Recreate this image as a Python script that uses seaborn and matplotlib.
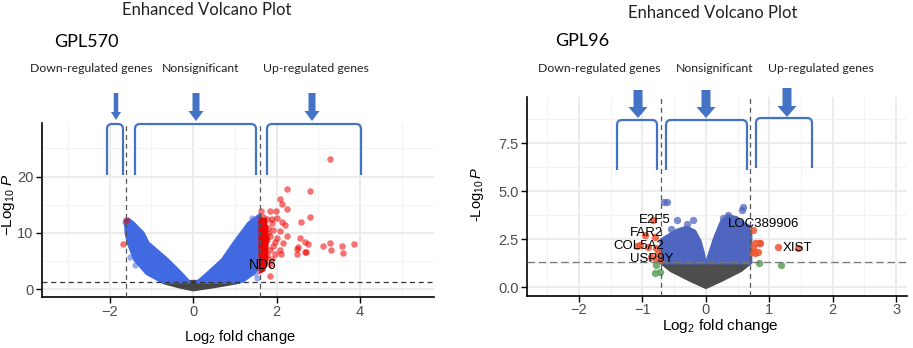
import numpy as np
import pandas as pd
import seaborn as sns
import matplotlib
matplotlib.use("Agg")
import matplotlib.pyplot as plt
from matplotlib.path import Path
from matplotlib.patches import PathPatch, FancyArrow
from matplotlib.ticker import FormatStrFormatter

sns.set_theme(style="white")
plt.rcParams["font.family"] = ["Liberation Sans", "DejaVu Sans"]
plt.rcParams["mathtext.fontset"] = "custom"
plt.rcParams["mathtext.rm"] = "Liberation Sans"
plt.rcParams["mathtext.it"] = "Liberation Sans:italic"

# ---------------- GPL570 data ----------------
gpl570_up_x = [3.27, 2.24, 2.79, 2.07, 2.12, 2.24, 1.99, 1.83, 1.63, 2.79, 2.58, 2.00, 2.12,
               1.89, 2.20, 1.72, 1.92, 2.08, 1.79, 2.24, 1.68, 2.00, 2.55, 2.68, 2.76, 3.28,
               3.12, 3.56, 3.86, 3.31, 3.58, 2.48, 2.68, 1.84, 2.08, 1.92, 2.16, 1.77, 1.89,
               2.50, 2.10, 1.83, 2.51, 2.71,
               1.63, 1.65, 1.62, 1.66, 1.63, 1.68, 1.62, 1.65, 1.70, 1.63, 1.66, 1.62, 1.70,
               1.64, 1.72, 1.75, 1.70, 1.74, 1.62, 1.78, 1.80, 1.76, 1.68, 1.85, 1.95, 1.90,
               1.95, 1.85]
gpl570_up_y = [23.1, 17.8, 17.4, 16.0, 15.1, 14.2, 13.9, 13.85, 13.8, 12.8, 12.0, 12.6, 12.0,
               11.7, 11.4, 11.1, 10.5, 10.4, 9.95, 9.5, 9.35, 9.05, 9.05, 8.3, 8.05, 8.2,
               7.6, 7.6, 8.0, 7.0, 6.4, 7.1, 6.7, 7.0, 7.0, 7.6, 8.2, 8.75, 12.4,
               6.3, 6.3, 2.4, 7.5, 6.6,
               12.0, 11.0, 10.5, 9.8, 9.0, 8.3, 7.8, 7.2, 6.8, 6.2, 5.6, 5.0, 4.6,
               4.2, 7.6, 9.0, 10.3, 5.5, 3.8, 6.0, 10.8, 12.5, 12.9, 9.4, 8.4, 5.4,
               6.2, 4.4]
gpl570_down_x = [-1.60, -1.68]
gpl570_down_y = [12.3, 8.05]
# dense red band just right of the cutoff
gpl570_band_x = [1.60, 1.74, 1.78, 1.76, 1.70, 1.60]
gpl570_band_y = [12.6, 12.4, 9.0, 5.0, 3.4, 3.0]
# envelope of the dense blue (p-significant) cloud
gpl570_left_arm_x = [-1.62, -1.60, -1.55, -1.39, -1.11, -0.79, -0.70,
                     -0.10, -0.13, -0.29, -0.61, -1.08, -1.20, -1.43, -1.55]
gpl570_left_arm_y = [12.2, 9.95, 8.2, 5.2, 2.84, 1.53, 1.30,
                     1.30, 1.53, 2.84, 5.2, 8.2, 9.95, 11.7, 12.4]
gpl570_right_arm_x = [0.10, 0.15, 0.35, 0.70, 0.98, 1.33, 1.50, 1.60,
                      1.60, 1.44, 1.20, 1.10]
gpl570_right_arm_y = [1.30, 1.53, 2.84, 5.2, 8.2, 11.7, 12.6, 13.2,
                      4.0, 2.84, 1.53, 1.30]
gpl570_ns_x = [-0.72, -0.35, 0.00, 0.50, 1.08]
gpl570_ns_y = [1.30, 0.55, 0.00, 0.55, 1.30]
gpl570_blue_x = [-1.62, -1.58, -1.30, -1.45, -1.51, -1.39, 1.41, 1.53, 1.53, 1.49]
gpl570_blue_y = [12.0, 11.2, 9.7, 10.2, 5.8, 4.3, 12.6, 12.3, 1.95, 2.84]
gpl570_labels = ["ND6"]
gpl570_label_x = [1.67]
gpl570_label_y = [4.3]

# ---------------- GPL96 data ----------------
gpl96_down_x = [-0.83, -0.96, -0.80, -1.04, -0.91, -0.78, -0.75, -0.72, -0.78, -1.08, -0.86]
gpl96_down_y = [3.50, 2.72, 2.63, 2.20, 2.12, 2.03, 1.77, 1.42, 1.50, 2.15, 1.60]
gpl96_up_x = [0.75, 0.77, 0.84, 0.86, 0.75, 0.77, 0.82, 0.73, 1.14, 1.45]
gpl96_up_y = [2.98, 2.29, 2.33, 2.29, 2.03, 1.77, 1.85, 1.85, 2.08, 2.03]
gpl96_fc_x = [-0.78, -0.80, -0.72, 0.84, 1.19]
gpl96_fc_y = [1.16, 0.73, 0.80, 1.25, 1.16]
gpl96_blue_x = [-0.66, -0.62, -0.46, -0.20, -0.44, -0.30, 0.59, 0.57, 0.27, 0.48, 0.35, -0.55]
gpl96_blue_y = [4.46, 4.42, 3.50, 3.50, 2.72, 3.30, 4.20, 4.00, 3.60, 3.33, 3.75, 3.05]
gpl96_left_arm_x = [-0.70, -0.70, -0.60, -0.45, -0.30, -0.18, -0.10, -0.05, -0.02]
gpl96_left_arm_y = [1.30, 2.45, 2.65, 2.95, 3.10, 2.90, 2.40, 1.80, 1.30]
gpl96_right_arm_x = [0.02, 0.08, 0.15, 0.25, 0.35, 0.48, 0.60, 0.70, 0.70]
gpl96_right_arm_y = [1.30, 1.90, 2.60, 3.40, 3.70, 3.60, 3.30, 3.10, 1.30]
gpl96_ns_x = [-0.70, -0.02, 0.00, 0.02, 0.70, 0.55, 0.25, 0.00, -0.25, -0.55]
gpl96_ns_y = [1.30, 1.30, 0.85, 1.30, 1.30, 0.90, 0.40, 0.02, 0.40, 0.90]
gpl96_labels = ["E2F5", "FAR2", "COL5A2", "USP9Y", "LOC389906", "XIST"]
gpl96_label_x = [-0.80, -0.94, -1.06, -0.86, 0.91, 1.44]
gpl96_label_y = [3.52, 2.84, 2.16, 1.49, 3.28, 2.06]

fc_cut_570 = 1.6
fc_cut_96 = 0.7
p_cut = 1.30

# ---------------- figure ----------------
W, H = 913, 348
fig = plt.figure(figsize=(W / 100, H / 100), dpi=100)
fig.patch.set_facecolor("white")
axL = fig.add_axes([42 / W, 1 - 297 / H, 392 / W, 174 / H])
axR = fig.add_axes([527 / W, 1 - 296 / H, 380 / W, 199 / H])


def style(ax, xlim, ylim, xmaj, xmin, ymaj, ymin, fs):
    ax.set_xlim(xlim)
    ax.set_ylim(ylim)
    ax.set_xticks(xmaj)
    ax.set_xticks(xmin, minor=True)
    ax.set_yticks(ymaj)
    ax.set_yticks(ymin, minor=True)
    ax.grid(which="major", color="#EBEBEB", lw=1.3)
    ax.grid(which="minor", color="#F3F3F3", lw=0.8)
    ax.set_axisbelow(True)
    for s in ["top", "right"]:
        ax.spines[s].set_visible(False)
    for s in ["left", "bottom"]:
        ax.spines[s].set_color("black")
        ax.spines[s].set_linewidth(1.2)
    ax.tick_params(which="major", direction="out", length=4, width=1, color="black",
                   labelcolor="#4D4D4D", labelsize=fs, left=True, bottom=True, pad=2)
    ax.tick_params(which="minor", length=0)
    ax.set_facecolor("white")


style(axL, (-3.62, 5.77), (-1.37, 29.5), [-2, 0, 2, 4], [-3, -1, 1, 3, 5],
      [0, 10, 20], [5, 15, 25], 10.5)
style(axR, (-2.82, 3.17), (-0.45, 9.9), [-2, -1, 0, 1, 2, 3],
      [-2.5, -1.5, -0.5, 0.5, 1.5, 2.5], [0, 2.5, 5, 7.5], [1.25, 3.75, 6.25, 8.75], 10.5)
axR.yaxis.set_major_formatter(FormatStrFormatter("%.1f"))
axR.tick_params(axis="x", pad=1)

# ---- GPL570 marks ----
blueL = "#4169E1"
axL.fill(gpl570_ns_x, gpl570_ns_y, color="#454545", lw=3, joinstyle="round", zorder=2)
axL.fill(gpl570_left_arm_x, gpl570_left_arm_y, color=blueL, lw=2.5, joinstyle="round", zorder=3)
axL.fill(gpl570_right_arm_x, gpl570_right_arm_y, color=blueL, lw=2.5, joinstyle="round", zorder=3)
sns.scatterplot(x=gpl570_blue_x, y=gpl570_blue_y, ax=axL, color=blueL, s=20, alpha=0.55,
                linewidth=0, legend=False, zorder=3)
axL.fill(gpl570_band_x, gpl570_band_y, color="#EE0000", alpha=0.9, lw=2, zorder=4)
sns.scatterplot(x=gpl570_up_x, y=gpl570_up_y, ax=axL, color="#EE0000", s=22, alpha=0.55,
                linewidth=0, legend=False, zorder=5)
sns.scatterplot(x=gpl570_down_x, y=gpl570_down_y, ax=axL, color="#EE0000", s=22, alpha=0.55,
                linewidth=0, legend=False, zorder=5)
for xv in (-fc_cut_570, fc_cut_570):
    axL.axvline(xv, color="#555555", lw=0.9, ls=(0, (4, 3)), zorder=6)
axL.axhline(p_cut, color="#333333", lw=0.9, ls=(0, (4, 3)), zorder=6)
for t, xv, yv in zip(gpl570_labels, gpl570_label_x, gpl570_label_y):
    axL.text(xv, yv, t, ha="center", va="center", fontsize=10, color="black", zorder=7)
axL.set_xlabel(r"$\mathrm{Log}_{2}$ fold change", fontsize=10.5, color="black", va="center")
axL.set_ylabel(r"$-\mathrm{Log}_{10}\ \mathit{P}$", fontsize=11, color="black",
               va="center", ha="center")
axL.xaxis.set_label_coords(0.504, -0.23)
axL.yaxis.set_label_coords(-0.086, 0.53)

# ---- GPL96 marks ----
blueR = "#4F66C0"
axR.fill(gpl96_ns_x, gpl96_ns_y, color="#4D4D4D", lw=3, joinstyle="round", zorder=2)
axR.fill(gpl96_left_arm_x, gpl96_left_arm_y, color=blueR, lw=3, joinstyle="round", zorder=3)
axR.fill(gpl96_right_arm_x, gpl96_right_arm_y, color=blueR, lw=3, joinstyle="round", zorder=3)
sns.scatterplot(x=gpl96_blue_x, y=gpl96_blue_y, ax=axR, color=blueR, s=28, alpha=0.75,
                linewidth=0, legend=False, zorder=3)
sns.scatterplot(x=gpl96_down_x, y=gpl96_down_y, ax=axR, color="#EE5530", s=28, alpha=0.85,
                linewidth=0, legend=False, zorder=4)
sns.scatterplot(x=gpl96_up_x, y=gpl96_up_y, ax=axR, color="#EE5530", s=28, alpha=0.85,
                linewidth=0, legend=False, zorder=4)
sns.scatterplot(x=gpl96_fc_x, y=gpl96_fc_y, ax=axR, color="#5BA05B", s=28, alpha=0.85,
                linewidth=0, legend=False, zorder=4)
for xv in (-fc_cut_96, fc_cut_96):
    axR.axvline(xv, color="#555555", lw=0.9, ls=(0, (4, 3)), zorder=6)
axR.axhline(p_cut, color="#777777", lw=0.9, ls=(0, (6, 3)), zorder=6)
for t, xv, yv in zip(gpl96_labels, gpl96_label_x, gpl96_label_y):
    axR.text(xv, yv, t, ha="center", va="center", fontsize=9.5, color="black", zorder=7)
axR.set_xlabel(r"$\mathrm{Log}_{2}$ fold change", fontsize=11, color="black", va="center")
axR.set_ylabel(r"-$\mathrm{Log}_{10}\,\mathit{P}$", fontsize=10.5, color="black",
               va="center", ha="center")
axR.xaxis.set_label_coords(0.509, -0.152)
axR.yaxis.set_label_coords(-0.13, 0.51)

# ---------------- annotation overlay (pixel space) ----------------
ov = fig.add_axes([0, 0, 1, 1], zorder=10)
ov.set_xlim(0, W)
ov.set_ylim(H, 0)
ov.axis("off")
ov.patch.set_alpha(0)

annot_font = ["Lato", "DejaVu Sans"]
ann_col = "#222222"
ov.text(207, 10, "Enhanced Volcano Plot", ha="center", va="center", fontsize=12,
        family=annot_font, color=ann_col)
ov.text(712.5, 13, "Enhanced Volcano Plot", ha="center", va="center", fontsize=12,
        family=annot_font, color=ann_col)
ov.text(86, 42, "GPL570", ha="center", va="center", fontsize=13, family=annot_font, color="black")
ov.text(582, 41, "GPL96", ha="center", va="center", fontsize=13, family=annot_font, color="black")
for cx, cy, t in [(91.5, 69, "Down-regulated genes"), (201, 69, "Nonsignificant"),
                  (316, 69, "Up-regulated genes"), (599, 68, "Down-regulated genes"),
                  (715, 68, "Nonsignificant"), (820.5, 68, "Up-regulated genes")]:
    ov.text(cx, cy, t, ha="center", va="center", fontsize=8.8, family=annot_font, color=ann_col)

arrow_col = "#4472C4"
for x, y0, y1, w, hw, hl in [(116, 93, 120, 4.5, 10, 8), (196, 93, 121, 7, 15, 10),
                             (312, 93, 121, 7, 15, 10), (638, 90, 118, 9, 19, 11),
                             (706, 90, 118, 9, 19, 11), (787, 88, 117, 9, 19, 11)]:
    ov.add_patch(FancyArrow(x, y0, 0, y1 - y0, width=w, head_width=hw, head_length=hl,
                            length_includes_head=True, color=arrow_col, lw=0))


def bracket(x0, x1, yt, yb, r=5):
    verts = [(x0, yb), (x0, yt + r), (x0, yt), (x0 + r, yt), (x1 - r, yt), (x1, yt),
             (x1, yt + r), (x1, yb)]
    codes = [Path.MOVETO, Path.LINETO, Path.CURVE3, Path.CURVE3, Path.LINETO,
             Path.CURVE3, Path.CURVE3, Path.LINETO]
    ov.add_patch(PathPatch(Path(verts, codes), fill=False, edgecolor=arrow_col, lw=1.6,
                           capstyle="butt"))


for b in [(107, 123, 124, 175), (135, 256, 124, 175), (267, 361, 124, 175),
          (617, 657, 120, 170), (666, 747, 120, 170), (756, 812, 118, 168)]:
    bracket(*b)

fig.savefig("out.png", dpi=100, facecolor="white")
